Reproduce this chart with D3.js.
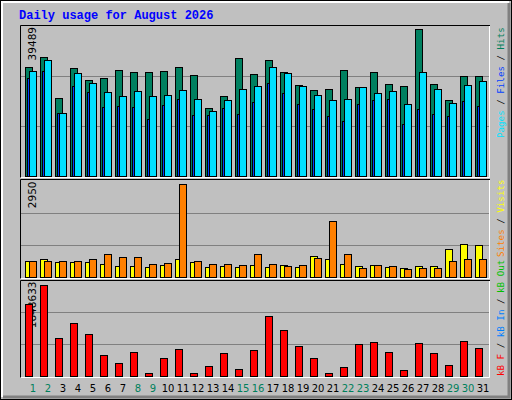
<!DOCTYPE html>
<html><head><meta charset="utf-8">
<script src="https://cdn.jsdelivr.net/npm/d3@7"></script>
<style>body{margin:0;background:#fff}svg{display:block}</style>
</head><body>
<script>
const days = d3.range(1, 32);
const weekend = [1,2,8,9,15,16,22,23,29,30];
const hits  = [28620,31250,20460,28360,25200,25720,27830,27300,27300,27570,28620,26510,17830,20990,30990,26780,30460,27300,23880,22560,22830,27830,23350,27300,24150,23620,38630,24150,19930,26250,26250];
const files = [27570,30460,16510,27040,24410,22040,20990,22300,20990,21250,22560,20200,17040,19930,22830,23620,28620,27040,23620,21250,19930,20200,23350,21780,22300,18880,27300,22830,19140,23880,24930];
const pages = [25720,27570,16510,23620,22040,18090,18350,18090,14930,18620,20200,15980,15980,17830,16250,19410,24410,21780,18880,17560,15720,14400,18880,19930,20200,13610,17560,16250,15720,19670,18350];
const visits= [504,535,473,473,473,412,350,350,319,381,565,473,319,350,319,381,319,381,319,657,565,412,350,381,319,289,350,350,841,995,964];
const sites = [504,504,504,504,565,688,626,626,412,442,2837,504,412,412,381,688,412,350,381,596,1701,718,289,381,350,258,289,289,504,565,535];
const kbytes= [1403000,1771000,744000,1035000,822000,415000,260000,473000,66000,357000,531000,66000,202000,453000,143000,512000,1170000,899000,589000,357000,66000,182000,628000,667000,473000,124000,647000,453000,221000,686000,550000];
const maxTop = 39489, maxMid = 2950, maxBot = 1848633;

const svg = d3.select("body").append("svg").attr("width",512).attr("height",400);
// outer frame with bevel
svg.append("rect").attr("x",0).attr("y",0).attr("width",512).attr("height",400).attr("fill","#c0c0c0");
svg.append("rect").attr("x",0.5).attr("y",0.5).attr("width",511).attr("height",399).attr("fill","none").attr("stroke","#000");
svg.append("path").attr("d","M2,397V2H509").attr("stroke","#fff").attr("stroke-width",2).attr("fill","none");
svg.append("path").attr("d","M3,397H509V3").attr("stroke","#808080").attr("stroke-width",3).attr("fill","none");

svg.append("text").attr("x",19).attr("y",19).text("Daily usage for August 2026")
  .attr("font-family","Liberation Mono, DejaVu Sans Mono, monospace").attr("font-weight","bold")
  .attr("font-size",12).attr("fill","#0000ff");

const x = d3.scaleLinear().domain([1,31]).range([25,475]);
const panels = [
  {top:25, bot:178, base:176, ymax:26, max:maxTop},
  {top:179, bot:279, base:277, ymax:180.5, max:maxMid},
  {top:280, bot:378, base:376, ymax:280.5, max:maxBot}
];
panels.forEach(p=>{
  p.y = d3.scaleLinear().domain([0,p.max]).range([p.base,p.ymax]);
  const g = svg.append("g");
  [1/3,2/3].forEach(f=>{
    const yy = Math.round(p.y(p.max*f))+0.5;
    g.append("line").attr("x1",21).attr("x2",489).attr("y1",yy).attr("y2",yy).attr("stroke","#808080");
  });
  g.append("path").attr("d",`M20.5,${p.bot}V${p.top+0.5}H490`).attr("stroke","#000").attr("fill","none");
  g.append("path").attr("d",`M20.5,${p.bot-0.5}H489.5V${p.top+1}`).attr("stroke","#fff").attr("fill","none");
  svg.append("text").attr("transform",`translate(36,${p.ymax+1}) rotate(-90)`).attr("text-anchor","end")
    .text(p.max).attr("font-family","DejaVu Sans, sans-serif").attr("font-size",10.5).attr("fill","#000");
});

function bars(data, p, dx, w, color){
  svg.append("g").selectAll("rect").data(data).join("rect")
    .attr("x",(d,i)=>x(days[i])+dx+0.5).attr("y",d=>Math.round(p.y(d))+0.5)
    .attr("width",w).attr("height",d=>Math.max(0,p.base-Math.round(p.y(d))))
    .attr("fill",color).attr("stroke","#000");
}
bars(hits, panels[0], 0, 7, "#008060");
bars(files, panels[0], 4, 7, "#00e0ff");
bars(pages, panels[0], 2, 2, "#0040ff");
bars(visits, panels[1], 0, 7, "#ffff00");
bars(sites, panels[1], 4, 7, "#ff8000");
bars(kbytes, panels[2], 0, 7, "#ff0000");

svg.append("g").selectAll("text").data(days).join("text")
  .attr("x",d=>x(d)+8).attr("y",392).attr("text-anchor","middle").text(d=>d)
  .attr("font-family","DejaVu Sans, sans-serif").attr("font-size",10)
  .attr("fill",d=>weekend.includes(d)?"#00805c":"#000");

function sideLabel(y0, parts){
  const t = svg.append("text").attr("transform",`translate(504,${y0}) rotate(-90)`)
    .attr("font-family","DejaVu Sans Mono, monospace").attr("font-size",9.2);
  parts.forEach(([s,c])=>t.append("tspan").text(s).attr("fill",c));
}
sideLabel(138, [["Pages","#00e0ff"],[" / ","#000"],["Files","#0040ff"],[" / ","#000"],["Hits","#00805c"]]);
sideLabel(257, [["Sites","#ff8000"],[" / ","#000"],["Visits","#ffff00"]]);
sideLabel(376, [["kB F","#ff0000"],[" / ","#000"],["kB In","#0080ff"],[" / ","#000"],["kB Out","#00c000"]]);
</script>
</body></html>
